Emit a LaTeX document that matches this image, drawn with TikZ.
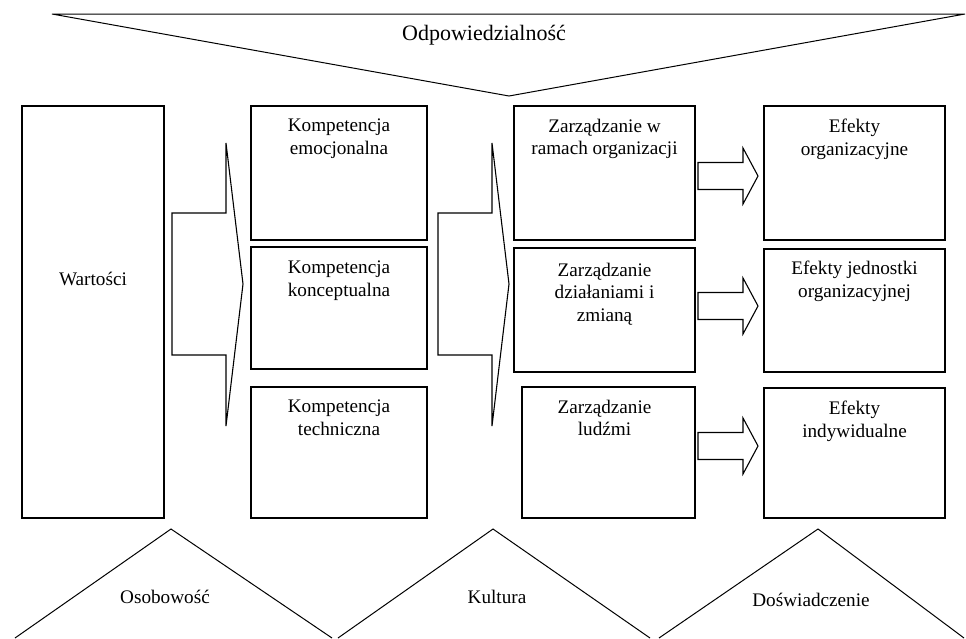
\documentclass[tikz,border=0pt]{standalone}
\usepackage{fontspec}
\setmainfont{Liberation Serif}
\usetikzlibrary{positioning}

\begin{document}
\begin{tikzpicture}[
  every node/.style={font=\fontsize{19.2}{22.5}\selectfont},
  box/.style  ={draw,line width=1.1pt,inner sep=0pt,outer sep=0pt},
  kbox/.style ={box,minimum width=176pt},
  zbox/.style ={box,minimum width=181pt},
  ebox/.style ={box,minimum width=181pt},
  txt/.style  ={align=center,inner sep=0pt,outer sep=0pt},
  barrow/.style={draw,line width=1.1pt,line join=miter},
  tri/.style  ={draw,line width=1pt},
  x=1pt,y=-1pt]

  \useasboundingbox (0,0) rectangle (966,638);

  % ===== TOP: responsibility wedge =====
  \draw[tri] (52,14) -- (965,14) -- (509,96) -- cycle;
  \node[txt,anchor=base,font=\fontsize{22}{26}\selectfont] (odp) at (484,40)
    {Odpowiedzialność};

  % ===== LEFT COLUMN: values =====
  \node[box,minimum width=142pt,minimum height=412pt] (wart) at (93,312) {};
  \node[txt,anchor=base] (wartt) at (93,285) {Wartości};

  % ===== COLUMN 2: competences =====
  \node[kbox,minimum height=134pt] (k1) at (339,173) {};
  \node[kbox,minimum height=122pt] (k2) at (339,308) {};
  \node[kbox,minimum height=131pt] (k3) at (339,452.5) {};
  \node[txt,below=13pt of k1.north] (k1t) {Kompetencja\\emocjonalna};
  \node[txt,below=14pt of k2.north] (k2t) {Kompetencja\\konceptualna};
  \node[txt,below=13pt of k3.north] (k3t) {Kompetencja\\techniczna};

  % ===== COLUMN 3: management =====
  \node[zbox,minimum height=134pt] (z1) at (604.5,173) {};
  \node[zbox,minimum height=124pt] (z2) at (604.5,310) {};
  \node[box,minimum width=173pt,minimum height=131pt] (z3) at (608.5,452.5) {};
  \node[txt,below=13pt of z1.north] (z1t) {Zarządzanie w\\ramach organizacji};
  \node[txt,below=15pt of z2.north] (z2t) {Zarządzanie\\działaniami i\\zmianą};
  \node[txt,below=13pt of z3.north,xshift=-4pt] (z3t) {Zarządzanie\\ludźmi};

  % ===== COLUMN 4: effects =====
  \node[ebox,minimum height=134pt] (e1) at (854.5,173) {};
  \node[ebox,minimum height=123pt] (e2) at (854.5,310.5) {};
  \node[ebox,minimum height=130pt] (e3) at (854.5,453) {};
  \node[txt,below=13pt of e1.north] (e1t) {Efekty\\organizacyjne};
  \node[txt,below=12pt of e2.north] (e2t) {Efekty jednostki\\organizacyjnej};
  \node[txt,below=13pt of e3.north] (e3t) {Efekty\\indywidualne};

  % ===== BIG BLOCK ARROWS (between columns) =====
  \draw[barrow] (172,213) -- (226,213) -- (226,143) -- (243,284)
                -- (226,426) -- (226,355) -- (172,355) -- cycle;
  \draw[barrow] (438,213) -- (492,213) -- (492,143) -- (509,284)
                -- (492,426) -- (492,355) -- (438,355) -- cycle;

  % ===== SMALL BLOCK ARROWS (management -> effects) =====
  \foreach \yy in {176,306,446}{
    \draw[barrow] (698,\yy-13.5) -- (743,\yy-13.5) -- (743,\yy-28) -- (758,\yy)
                  -- (743,\yy+28) -- (743,\yy+13.5) -- (698,\yy+13.5) -- cycle;
  }

  % ===== BOTTOM: three wedges =====
  \draw[tri] (15,638) -- (171,529) -- (332,638);
  \draw[tri] (338,638) -- (493,529) -- (650,638);
  \draw[tri] (659,638) -- (818,529) -- (964,638);
  \node[txt,anchor=base] (oso) at (165,603) {Osobowość};
  \node[txt,anchor=base] (kul) at (497,603) {Kultura};
  \node[txt,anchor=base] (dos) at (811,606) {Doświadczenie};

\end{tikzpicture}
\end{document}
